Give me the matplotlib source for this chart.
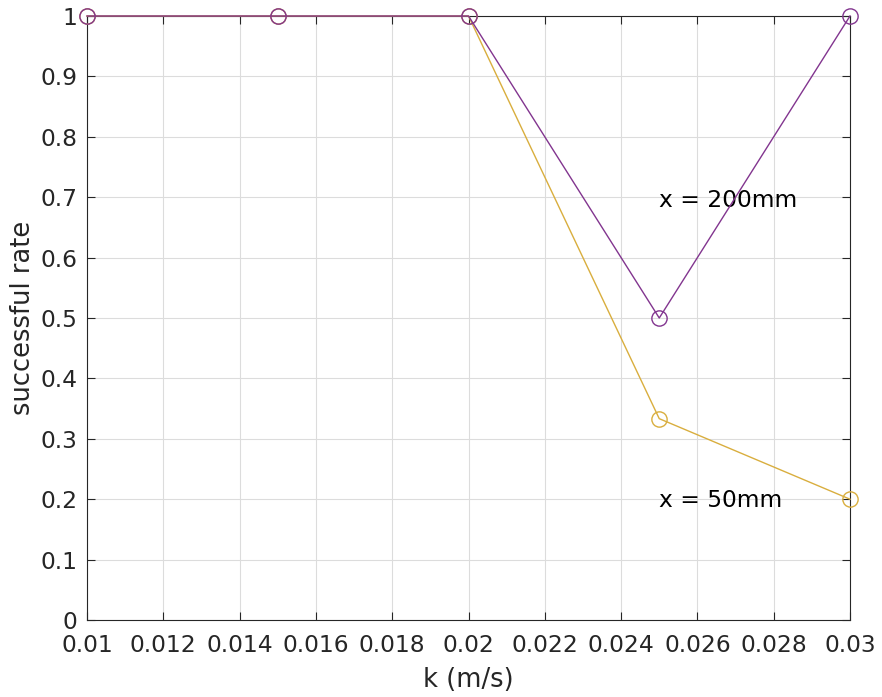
import matplotlib
matplotlib.use("Agg")
import matplotlib.pyplot as plt
import numpy as np

k = [0.01, 0.015, 0.02, 0.025, 0.03]
rate_200 = [1, 1, 1, 0.5, 1]
rate_50 = [1, 1, 1, 1/3, 0.2]
xticks = [0.01, 0.012, 0.014, 0.016, 0.018, 0.02, 0.022, 0.024, 0.026, 0.028, 0.03]
xticklabels = ["0.01", "0.012", "0.014", "0.016", "0.018", "0.02", "0.022", "0.024", "0.026", "0.028", "0.03"]
yticks = [0, 0.1, 0.2, 0.3, 0.4, 0.5, 0.6, 0.7, 0.8, 0.9, 1]
yticklabels = ["0", "0.1", "0.2", "0.3", "0.4", "0.5", "0.6", "0.7", "0.8", "0.9", "1"]

plt.rcParams['font.family'] = ['DejaVu Sans']
fig = plt.figure(figsize=(8.82, 6.97), dpi=100)
ax = fig.add_axes([87/882, 1-620/697, (850-87)/882, (620-16)/697])

ax.plot(k, rate_50, color='#D9AE3E', marker='o', markersize=11, markerfacecolor='none',
        markeredgewidth=1.0, linewidth=1.0, clip_on=False, zorder=3)
ax.plot(k, rate_200, color='#82358F', marker='o', markersize=11, markerfacecolor='none',
        markeredgewidth=1.0, linewidth=1.0, clip_on=False, zorder=4)

ax.text(0.025, 0.695, 'x = 200mm', fontsize=16.8, color='black', va='center', ha='left')
ax.text(0.025, 0.198, 'x = 50mm', fontsize=16.8, color='black', va='center', ha='left')

ax.set_xlim(0.01, 0.03)
ax.set_ylim(0, 1)
ax.set_xticks(xticks)
ax.set_xticklabels(xticklabels)
ax.set_yticks(yticks)
ax.set_yticklabels(yticklabels)
ax.grid(True, color='#dcdcdc', linewidth=0.8)
ax.set_axisbelow(True)
ax.tick_params(direction='in', length=6, width=0.8, top=True, right=True,
               labelsize=16.8, colors='#262626')
ax.tick_params(axis='x', pad=10)
ax.tick_params(axis='y', pad=7)
for s in ax.spines.values():
    s.set_color('#262626')
    s.set_linewidth(0.8)
ax.set_xlabel('k (m/s)', fontsize=18.5, color='#262626', labelpad=7)
ax.set_ylabel('successful rate', fontsize=18.5, color='#262626', labelpad=3)

fig.savefig('out.png', dpi=100)
